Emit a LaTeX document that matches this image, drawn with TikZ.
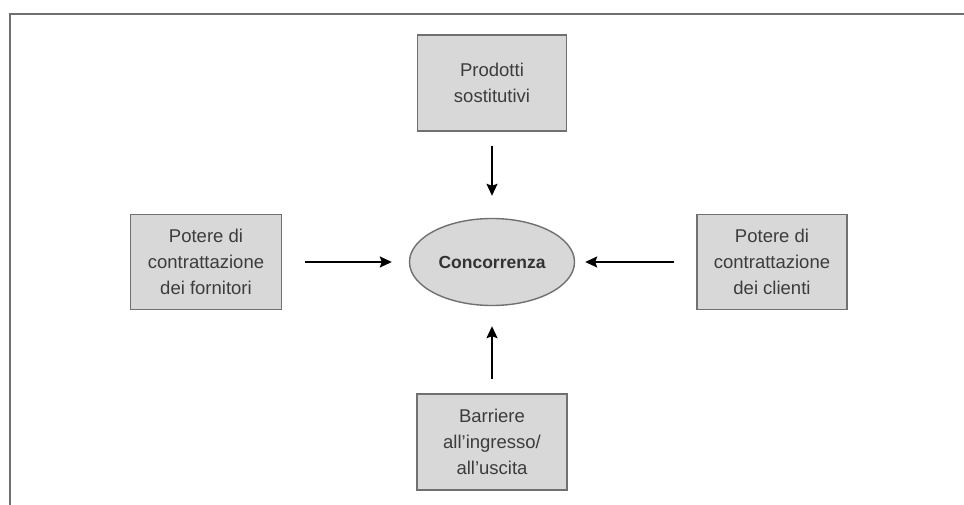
\documentclass[tikz,border=0pt]{standalone}
\usepackage{fontspec}
\setmainfont{Liberation Sans}
\usetikzlibrary{shapes.geometric,arrows.meta}
\definecolor{boxfill}{HTML}{D8D8D8}
\definecolor{boxline}{HTML}{707070}
\definecolor{txt}{HTML}{3C3C3C}
\begin{document}
\begin{tikzpicture}[x=1pt,y=-1pt,
  forcebox/.style={draw=boxline,line width=1.4pt,fill=boxfill,align=center,
    text=txt,inner sep=0pt,font=\fontsize{18.5}{26}\selectfont},
  core/.style={ellipse,draw=boxline,line width=1.4pt,fill=boxfill,
    text=black!80,inner sep=0pt,font=\fontsize{17.5}{20}\selectfont\bfseries},
  push/.style={line width=1.8pt,-{Stealth[length=12pt,width=11pt,inset=2pt]}},
  frameline/.style={draw=boxline,line width=2pt}]
  \useasboundingbox (0,0) rectangle (964,505);
  \fill[white] (0,0) rectangle (964,505);
  % outer frame (top and left rules)
  \coordinate (fc) at (10,14);
  \coordinate (fr) at (964,14);
  \coordinate (fb) at (10,505);
  \draw[frameline] (fr) -- (fc) -- (fb);
  % central node
  \node[core,minimum width=165pt,minimum height=87pt] (conc) at (492,262) {Concorrenza};
  % surrounding forces
  \node[forcebox,minimum width=149pt,minimum height=96pt] (sost) at (492,83) {Prodotti\\sostitutivi};
  \node[forcebox,minimum width=151pt,minimum height=95pt] (forn) at (206,262) {Potere di\\contrattazione\\dei fornitori};
  \node[forcebox,minimum width=150pt,minimum height=95pt] (cli) at (772,262) {Potere di\\contrattazione\\dei clienti};
  \node[forcebox,minimum width=150pt,minimum height=96pt] (barr) at (492,442) {Barriere\\all'ingresso/\\all'uscita};
  % arrows toward the centre
  \draw[push] ([yshift=-14pt]sost.south) -- ([yshift=22pt]conc.north);
  \draw[push] ([xshift=23pt]forn.east) -- ([xshift=-17pt]conc.west);
  \draw[push] ([xshift=-22pt]cli.west) -- ([xshift=10pt]conc.east);
  \draw[push] ([yshift=14pt]barr.north) -- ([yshift=-20pt]conc.south);
\end{tikzpicture}
\end{document}
